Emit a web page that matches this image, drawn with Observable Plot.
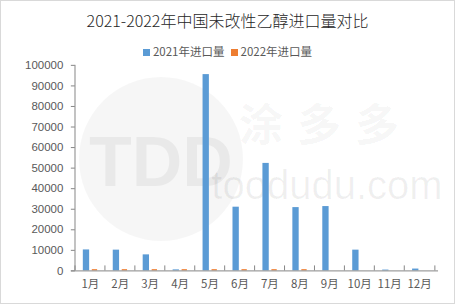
<!DOCTYPE html>
<html>
<head>
<meta charset="utf-8">
<script src="https://cdn.jsdelivr.net/npm/d3@7"></script>
<script src="https://cdn.jsdelivr.net/npm/@observablehq/plot@0.6"></script>
<style>
  html, body { margin: 0; padding: 0; background: #fff; }
  #wrap { position: relative; width: 455px; height: 304px; box-sizing: border-box; border: 1px solid #d9d9d9; overflow: hidden; font-family: "Noto Sans CJK SC", "Noto Sans", sans-serif; }
  #title { position: absolute; left: 0; right: 0; top: 7px; text-align: center; font-size: 16px; color: #262626; font-weight: 300; line-height: 24px; }
  #legend { position: absolute; left: 0; right: 0; top: 42px; text-align: center; font-size: 11.5px; color: #595959; line-height: 16px; white-space: nowrap; }
  #legend span.sw { display: inline-block; width: 7px; height: 7px; margin-right: 3px; vertical-align: 0px; }
  #legend span.item { margin: 0 3px; }
  #wm { position: absolute; left: 0; top: 0; width: 455px; height: 304px; pointer-events: none; }
  #chart { position: absolute; left: -1px; top: -1px; }
</style>
</head>
<body>
<div id="wrap">
  <svg id="wm" width="455" height="304">
    <circle cx="160" cy="158" r="82" fill="#000" fill-opacity="0.035"/>
    <text x="160" y="185" text-anchor="middle" font-family="Liberation Sans" font-weight="bold" font-size="70" fill="#000" fill-opacity="0.05">TDD</text>
    <text x="325" y="140" text-anchor="middle" font-family="Noto Sans CJK SC" font-weight="bold" font-size="44" letter-spacing="14" fill="#000" fill-opacity="0.05">涂多多</text>
    <text x="326" y="198" text-anchor="middle" font-family="Liberation Sans" font-size="40" fill="#000" fill-opacity="0.06">toodudu.com</text>
  </svg>
  <div id="title">2021-2022年中国未改性乙醇进口量对比</div>
  <div id="legend"></div>
  <div id="chart"></div>
</div>
<script>
const months = ["1月","2月","3月","4月","5月","6月","7月","8月","9月","10月","11月","12月"];
const series = ["2021年进口量", "2022年进口量"];
const colors = ["#5B9BD5", "#ED7D31"];
const v2021 = [10200, 10100, 7800, 500, 95500, 31000, 52300, 30800, 31300, 10100, 400, 900];
const v2022 = [600, 600, 600, 600, 600, 600, 600, 600, 0, 0, 0, 0];
const yTicks = [0, 10000, 20000, 30000, 40000, 50000, 60000, 70000, 80000, 90000, 100000];

const W = 455, H = 304;
const mL = 71, mR = 16, mT = 65, mB = 33;
const bw = (W - mL - mR) / months.length;
const plotH = H - mT - mB;

const d21 = months.map((m, i) => ({month: m, value: v2021[i]}));
const d22 = months.map((m, i) => ({month: m, value: v2022[i]}));

const axisColor = "#868686";
const labelColor = "#595959";

const chart = Plot.plot({
  width: W,
  height: H,
  marginLeft: mL, marginRight: mR, marginTop: mT, marginBottom: mB,
  style: {background: "transparent", fontFamily: "Noto Sans CJK SC, Liberation Sans, sans-serif"},
  x: {domain: months, padding: 0, axis: null},
  y: {domain: [0, 100000], axis: null},
  marks: [
    Plot.barY(d21, {x: "month", y: "value", fill: colors[0], insetLeft: 8, insetRight: bw - 15}),
    Plot.barY(d22, {x: "month", y: "value", fill: colors[1], insetLeft: 17, insetRight: bw - 23}),
    Plot.ruleY(yTicks, {y: d => d, stroke: axisColor, insetRight: W - mL - mR - 4}),
    Plot.ruleY([0], {stroke: axisColor}),
    Plot.ruleX(months, {x: d => d, dx: -bw / 2, insetTop: plotH - 5, stroke: axisColor}),
    Plot.ruleX([months[months.length - 1]], {x: d => d, dx: bw / 2, insetTop: plotH - 5, stroke: axisColor}),
    Plot.ruleX([months[0]], {x: d => d, dx: -bw / 2, y1: 0, y2: 100000, stroke: axisColor}),
    Plot.text(yTicks, {y: d => d, frameAnchor: "left", dx: -8, textAnchor: "end", text: d => String(d), fill: labelColor, fontSize: 11.5, fontFamily: "Liberation Sans"}),
    Plot.text(months, {x: d => d, frameAnchor: "bottom", dy: 17, text: d => d, fill: labelColor, fontSize: 11.5})
  ]
});
document.getElementById("chart").appendChild(chart);

const legend = document.getElementById("legend");
series.forEach((s, i) => {
  const item = document.createElement("span");
  item.className = "item";
  const sw = document.createElement("span");
  sw.className = "sw";
  sw.style.background = colors[i];
  item.appendChild(sw);
  item.appendChild(document.createTextNode(s));
  legend.appendChild(item);
});
</script>
</body>
</html>
